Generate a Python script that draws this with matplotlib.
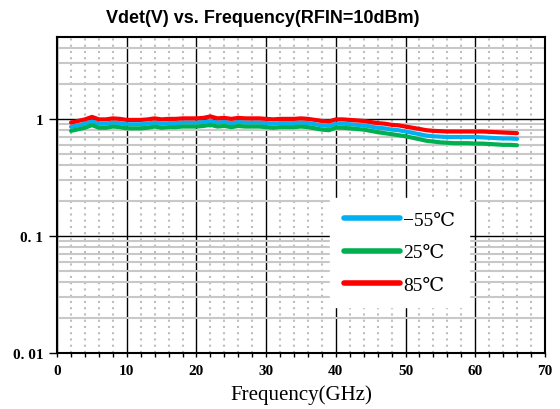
import matplotlib
matplotlib.use("Agg")
import matplotlib.pyplot as plt
from matplotlib.ticker import FixedLocator, NullFormatter

# frequency points (GHz)
freq = list(range(2, 67))

# Vdet (V) at each temperature
vdet_85 = [0.93, 0.96, 0.99, 1.04, 0.99, 0.99, 1.01, 1.00, 0.98, 0.98,
           0.98, 0.99, 1.01, 0.99, 1.00, 1.00, 1.01, 1.01, 1.01, 1.02,
           1.05, 1.01, 1.02, 1.00, 1.02, 1.01, 1.01, 1.01, 1.00, 0.99,
           1.00, 1.00, 1.00, 1.01, 1.00, 0.98, 0.96, 0.95, 0.99, 0.99,
           0.98, 0.97, 0.96, 0.94, 0.92, 0.91, 0.89, 0.88, 0.86, 0.84,
           0.82, 0.80, 0.79, 0.785, 0.78, 0.78, 0.78, 0.78, 0.78, 0.78,
           0.775, 0.77, 0.765, 0.76, 0.755]
vdet_m55 = [0.855, 0.88, 0.91, 0.955, 0.91, 0.91, 0.93, 0.92, 0.90, 0.90,
            0.90, 0.91, 0.93, 0.91, 0.92, 0.92, 0.93, 0.93, 0.93, 0.94,
            0.965, 0.93, 0.94, 0.92, 0.94, 0.93, 0.93, 0.93, 0.92, 0.91,
            0.92, 0.92, 0.92, 0.93, 0.92, 0.90, 0.88, 0.87, 0.91, 0.91,
            0.90, 0.89, 0.88, 0.86, 0.84, 0.83, 0.81, 0.80, 0.78, 0.76,
            0.74, 0.72, 0.71, 0.705, 0.70, 0.70, 0.70, 0.70, 0.70, 0.695,
            0.69, 0.685, 0.68, 0.68, 0.675]
vdet_25 = [0.79, 0.815, 0.84, 0.885, 0.84, 0.84, 0.86, 0.85, 0.83, 0.83,
           0.83, 0.84, 0.86, 0.84, 0.85, 0.85, 0.86, 0.86, 0.86, 0.87,
           0.89, 0.86, 0.87, 0.85, 0.87, 0.86, 0.86, 0.86, 0.85, 0.84,
           0.85, 0.85, 0.85, 0.86, 0.85, 0.83, 0.81, 0.80, 0.84, 0.84,
           0.83, 0.82, 0.81, 0.79, 0.77, 0.755, 0.74, 0.725, 0.71, 0.69,
           0.67, 0.65, 0.64, 0.63, 0.625, 0.62, 0.62, 0.62, 0.615, 0.615,
           0.61, 0.605, 0.60, 0.60, 0.595]

labels = ["\u221255\u2103", "25\u2103", "85\u2103"]
ytick_vals = [0.01, 0.1, 1]
ytick_labels = ["0. 01", "0. 1", "1"]

serif = ["Liberation Serif", "DejaVu Serif", "DejaVu Sans"]

fig = plt.figure(figsize=(5.6, 4.1), dpi=100)
ax = fig.add_axes([0.102, 0.137, 0.871, 0.770])

ax.set_yscale("log")
ax.set_xlim(0, 70)
ax.set_ylim(0.01, 5)

# grid: minor first so major lines sit on top
ax.xaxis.set_minor_locator(FixedLocator(range(0, 71, 2)))
ax.yaxis.set_minor_locator(FixedLocator([m * d for d in (0.01, 0.1, 1) for m in range(2, 10)]))
ax.yaxis.set_minor_formatter(NullFormatter())
ax.grid(True, which="minor", axis="x", color="#bdbdbd", linestyle=(0, (1, 2)), linewidth=1.5)
ax.grid(True, which="minor", axis="y", color="#c8c8c8", linestyle="-", linewidth=1.5)
ax.grid(True, which="major", color="black", linewidth=1.0)
ax.set_axisbelow(True)

ax.plot(freq, vdet_m55, color="#00B0F0", lw=3.0, solid_capstyle="round", label=labels[0])
ax.plot(freq, vdet_25, color="#00B050", lw=3.0, solid_capstyle="round", label=labels[1])
ax.plot(freq, vdet_85, color="#FF0000", lw=3.0, solid_capstyle="round", label=labels[2])

ax.set_xticks(range(0, 71, 10))
ax.set_yticks(ytick_vals)
ax.set_yticklabels(ytick_labels)
for t in ax.get_xticklabels() + ax.get_yticklabels():
    t.set_fontfamily(serif)
    t.set_fontweight("bold")
    t.set_fontsize(11)
ax.tick_params(axis="x", which="both", direction="out", length=3, width=1, pad=5)
ax.tick_params(axis="y", which="major", direction="out", length=6, width=1, pad=4)
ax.tick_params(axis="y", which="minor", length=0)
for s in ax.spines.values():
    s.set_linewidth(1.5)
    s.set_color("black")

ax.set_xlabel("Frequency(GHz)", family=serif, fontsize=15, labelpad=5)
fig.text(0.47, 0.955, "Vdet(V) vs. Frequency(RFIN=10dBm)", ha="center", va="center",
         family=["Liberation Sans", "DejaVu Sans"], fontweight="bold", fontsize=13)

leg = ax.legend(loc="upper left", bbox_to_anchor=(330 / 560, 1 - 199 / 410), bbox_transform=fig.transFigure,
                borderaxespad=0, frameon=True, fancybox=False, framealpha=1, edgecolor="white",
                prop={"family": serif, "size": 14},
                handlelength=2.9, handletextpad=0.15, labelspacing=0.75, borderpad=0.7)
for line in leg.get_lines():
    line.set_linewidth(4)

fig.savefig("out.png", dpi=100)
